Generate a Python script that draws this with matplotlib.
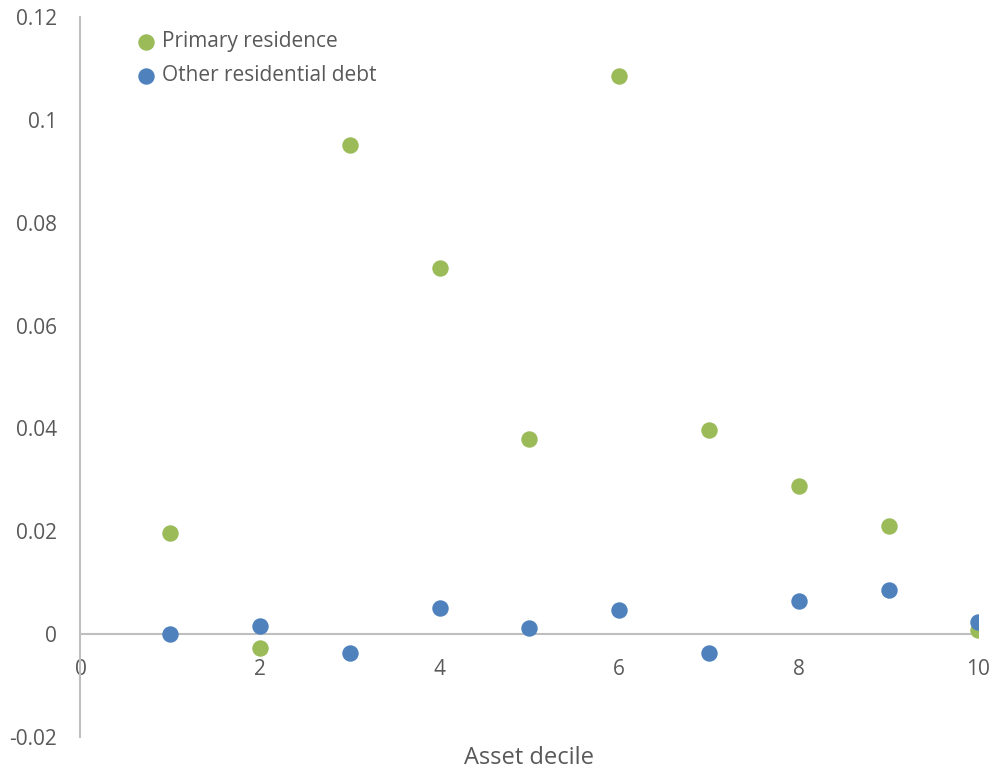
import numpy as np
import matplotlib
matplotlib.use("Agg")
import matplotlib.pyplot as plt

plt.rcParams['font.family'] = ['Open Sans', 'DejaVu Sans']

deciles = [1, 2, 3, 4, 5, 6, 7, 8, 9, 10]
primary_residence = [0.0197, -0.0026, 0.0951, 0.0712, 0.0380, 0.1085, 0.0396, 0.0289, 0.0211, 0.0009]
other_residential = [0.0000, 0.0016, -0.0037, 0.0050, 0.0012, 0.0047, -0.0037, 0.0064, 0.0085, 0.0023]

x_ticks = [0, 2, 4, 6, 8, 10]
y_ticks = [-0.02, 0, 0.02, 0.04, 0.06, 0.08, 0.1, 0.12]
y_labels = ['-0.02', '0', '0.02', '0.04', '0.06', '0.08', '0.1', '0.12']

green = '#9BBB59'
blue = '#4F81BD'
grey_text = '#595959'
axis_grey = '#BFBFBF'

fig = plt.figure(figsize=(9.95, 7.78), dpi=100)
ax = fig.add_axes([0.0809, 0.0527, 0.9023, 0.9255])

ax.scatter(deciles, primary_residence, s=140, color=green, label='Primary residence', zorder=3, linewidths=0)
ax.scatter(deciles, other_residential, s=140, color=blue, label='Other residential debt', zorder=3, linewidths=0)

ax.set_xlim(0, 10)
ax.set_ylim(-0.02, 0.12)
ax.set_xticks(x_ticks)
ax.set_yticks(y_ticks)
ax.set_yticklabels(y_labels)

# axis lines: vertical at x=0, horizontal at y=0
ax.spines['top'].set_visible(False)
ax.spines['right'].set_visible(False)
ax.spines['bottom'].set_position(('data', 0))
ax.spines['bottom'].set_color(axis_grey)
ax.spines['left'].set_color(axis_grey)
ax.spines['bottom'].set_linewidth(1.5)
ax.spines['left'].set_linewidth(1.5)
ax.spines['bottom'].set_zorder(1)

ax.tick_params(axis='both', length=0, labelsize=15, labelcolor=grey_text)
ax.tick_params(axis='y', pad=17)
ax.tick_params(axis='x', pad=18)

ax.set_xlabel('Asset decile', fontsize=17, color=grey_text)
ax.xaxis.set_label_coords(0.5, -0.012)

leg = ax.legend(loc='upper left', bbox_to_anchor=(0.031, 1.003), frameon=False,
                fontsize=15, handletextpad=-0.2, labelspacing=0.62, markerscale=1.0,
                borderpad=0.3)
for t in leg.get_texts():
    t.set_color(grey_text)

fig.savefig('out.png', dpi=100)
